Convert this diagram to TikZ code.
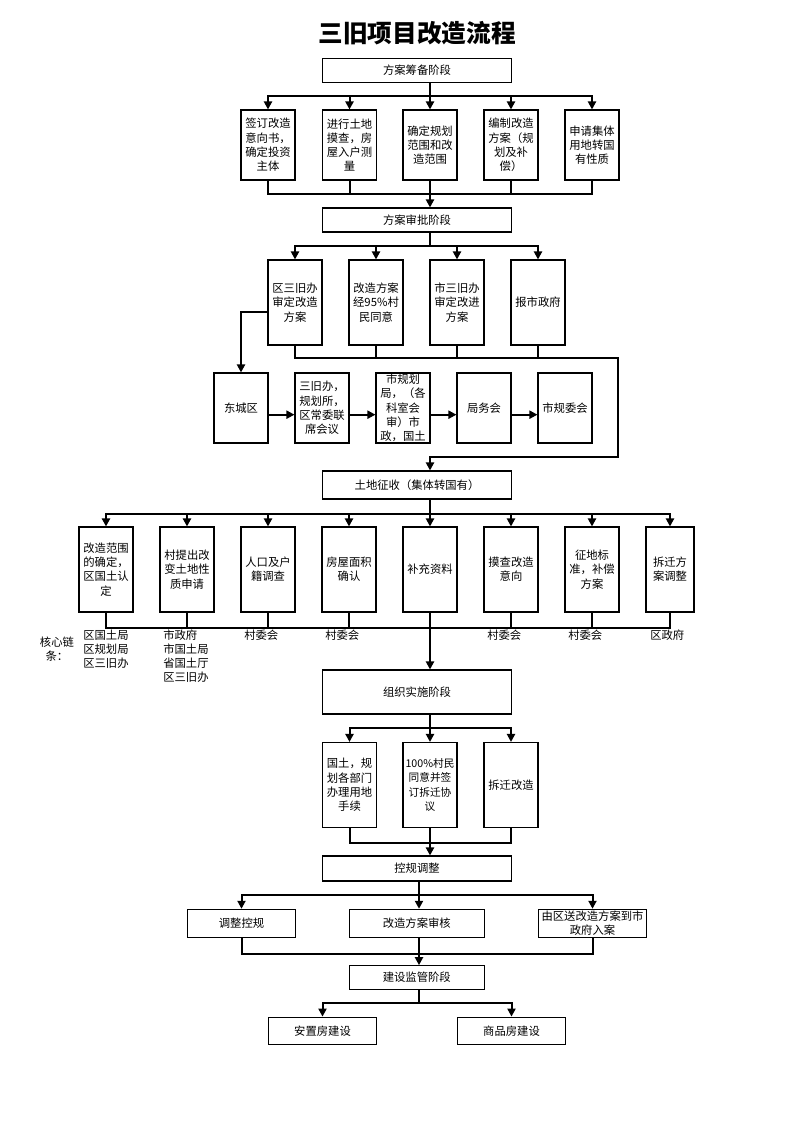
\documentclass[tikz,border=0pt]{standalone}
\usepackage{fontspec}
\setmainfont{Noto Sans CJK SC}
\usetikzlibrary{arrows.meta}

\begin{document}
\begin{tikzpicture}[x=0.75pt,y=-0.75pt,
  stagebox/.style={draw,line width=0.8pt,minimum width=141.75pt,minimum height=18pt,inner sep=0pt,align=center,font=\fontsize{8.5}{10.7}\selectfont},
  tallbox/.style={draw,line width=0.8pt,minimum width=40.5pt,minimum height=52.5pt,inner sep=0pt,align=center,font=\fontsize{8.5}{10.7}\selectfont},
  note/.style={inner sep=0pt,align=left,anchor=north west,font=\fontsize{8.5}{10.5}\selectfont},
  link/.style={line width=1.5pt,line cap=rect},
  linkarrow/.style={line width=1.5pt,-{Triangle[length=6pt,width=6pt]}}]
\useasboundingbox (0,0) rectangle (793,1122);
\node[font=\fontsize{18.5}{20}\selectfont\bfseries] (title) at (417,33) {三旧项目改造流程};

\coordinate (spine) at (430,0);
\coordinate (spineb) at (419,0);

% 方案筹备阶段
\node[stagebox] (s1) at (417,70.5) {方案筹备阶段};
\node[tallbox] (a1) at (268,145) {签订改造\\意向书，\\确定投资\\主体};
\node[tallbox] (a2) at (349.5,145) {进行土地\\摸查，房\\屋入户测\\量};
\node[tallbox] (a3) at (430,145) {确定规划\\范围和改\\造范围};
\node[tallbox] (a4) at (511,145) {编制改造\\方案（规\\划及补\\偿）};
\node[tallbox] (a5) at (592,145) {申请集体\\用地转国\\有性质};
\coordinate (busa) at (0,96);
\coordinate (busb) at (0,194);
\draw[link] (busa -| a1) -- (busa -| a5);
\draw[link] (s1.south -| spine) -- (busa -| spine);
\foreach \n in {a1,a2,a3,a4,a5} \draw[linkarrow] (busa -| \n) -- (\n.north);
\foreach \n in {a1,a2,a4,a5} \draw[link] (\n.south) -- (busb -| \n);
\draw[link] (busb -| a1) -- (busb -| a5);

% 方案审批阶段
\node[stagebox] (s2) at (417,220) {方案审批阶段};
\draw[linkarrow] (a3.south) -- (s2.north -| a3);
\node[tallbox,minimum height=63.75pt] (b1) at (295,302.5) {区三旧办\\审定改造\\方案};
\node[tallbox,minimum height=63.75pt] (b2) at (376,302.5) {改造方案\\经95\%村\\民同意};
\node[tallbox,minimum height=63.75pt] (b3) at (457,302.5) {市三旧办\\审定改进\\方案};
\node[tallbox,minimum height=63.75pt] (b4) at (538,302.5) {报市政府};
\coordinate (busc) at (0,246);
\draw[link] (s2.south -| spine) -- (busc -| spine);
\draw[link] (busc -| b1) -- (busc -| b4);
\foreach \n in {b1,b2,b3,b4} \draw[linkarrow] (busc -| \n) -- (\n.north);

\node[tallbox] (c1) at (241,408) {东城区};
\node[tallbox] (c2) at (322,408) {三旧办，\\规划所，\\区常委联\\席会议};
\node[tallbox] (c3) at (403,408) {市规划\\局，（各\\科室会\\审）市\\政，国土};
\node[tallbox] (c4) at (484,408) {局务会};
\node[tallbox] (c5) at (565,408) {市规委会};
\draw[linkarrow] ([yshift=-6.9pt]b1.west) -| (c1.north);
\foreach \p/\q in {c1/c2,c2/c3,c3/c4,c4/c5}
  \draw[linkarrow] ([yshift=-5pt]\p.east) -- ([yshift=-5pt]\q.west);

% 土地征收
\node[stagebox,minimum height=21pt] (s3) at (417,485) {土地征收（集体转国有）};
\coordinate (loopa) at (618,358);
\coordinate (loopb) at (618,456.7);
\foreach \n in {b2,b3,b4} \draw[link] (\n.south) -- (loopa -| \n);
\draw[linkarrow] (b1.south) |- (loopa) -- (loopb) -| (s3.north -| spine);

\node[tallbox,minimum height=63.75pt] (d1) at (106,569.5) {改造范围\\的确定，\\区国土认\\定};
\node[tallbox,minimum height=63.75pt] (d2) at (187,569.5) {村提出改\\变土地性\\质申请};
\node[tallbox,minimum height=63.75pt] (d3) at (268,569.5) {人口及户\\籍调查};
\node[tallbox,minimum height=63.75pt] (d4) at (349,569.5) {房屋面积\\确认};
\node[tallbox,minimum height=63.75pt] (d5) at (430,569.5) {补充资料};
\node[tallbox,minimum height=63.75pt] (d6) at (511,569.5) {摸查改造\\意向};
\node[tallbox,minimum height=63.75pt] (d7) at (592,569.5) {征地标\\准，补偿\\方案};
\node[tallbox,minimum height=63.75pt,minimum width=36pt] (d8) at (670,569.5) {拆迁方\\案调整};
\coordinate (busd) at (0,514);
\coordinate (buse) at (0,628);
\draw[link] (s3.south -| spine) -- (busd -| spine);
\draw[link] (busd -| d1) -- (busd -| d8);
\foreach \n in {d1,d2,d3,d4,d5,d6,d7,d8} \draw[linkarrow] (busd -| \n) -- (\n.north);
\foreach \n in {d1,d2,d3,d4,d6,d7,d8} \draw[link] (\n.south) -- (buse -| \n);
\draw[link] (buse -| d1) -- (buse -| d8);

\node[inner sep=0pt,align=center,font=\fontsize{8.5}{10.5}\selectfont] (k0) at (57,649) {核心链\\条：};
\node[note] (k1) at (83,630) {区国土局\\区规划局\\区三旧办};
\node[note] (k2) at (163,630) {市政府\\市国土局\\省国土厅\\区三旧办};
\node[note] (k3) at (244,630) {村委会};
\node[note] (k4) at (325,630) {村委会};
\node[note] (k6) at (487,630) {村委会};
\node[note] (k7) at (568,630) {村委会};
\node[note] (k8) at (650,630) {区政府};

% 组织实施阶段
\node[stagebox,minimum height=33pt] (s4) at (417,692) {组织实施阶段};
\draw[linkarrow] (d5.south) -- (s4.north -| d5);
\node[tallbox,minimum height=63.75pt] (e1) at (349.5,785) {国土，规\\划各部门\\办理用地\\手续};
\node[tallbox,minimum height=63.75pt,font=\fontsize{8}{10.7}\selectfont] (e2) at (430,785) {100\%村民\\同意并签\\订拆迁协\\议};
\node[tallbox,minimum height=63.75pt] (e3) at (511,785) {拆迁改造};
\coordinate (busf) at (0,728.3);
\coordinate (busg) at (0,842.7);
\draw[linkarrow] (s4.south -| spine) -- (e2.north);
\draw[link] (busf -| e1) -- (busf -| e3);
\foreach \n in {e1,e3} \draw[linkarrow] (busf -| \n) -- (\n.north);
\foreach \n in {e1,e3} \draw[link] (\n.south) -- (busg -| \n);
\draw[link] (busg -| e1) -- (busg -| e3);

% 控规调整
\node[stagebox,minimum height=18.75pt] (s5) at (417,868.5) {控规调整};
\draw[linkarrow] (e2.south) -- (s5.north -| e2);
\node[stagebox,minimum width=81.3pt,minimum height=21pt] (f1) at (241.5,923.3) {调整控规};
\node[stagebox,minimum width=101.25pt,minimum height=21pt] (f2) at (416.8,923.3) {改造方案审核};
\node[stagebox,minimum width=81.3pt,minimum height=21pt,font=\fontsize{8.5}{10}\selectfont] (f3) at (592.5,923.3) {由区送改造方案到市\\政府入案};
\coordinate (bush) at (0,895);
\coordinate (busi) at (0,954.3);
\draw[linkarrow] (s5.south -| spineb) -- (f2.north -| spineb);
\draw[link] (bush -| f1) -- (bush -| f3);
\foreach \n in {f1,f3} \draw[linkarrow] (bush -| \n) -- (\n.north);
\foreach \n in {f1,f3} \draw[link] (\n.south) -- (busi -| \n);
\draw[link] (busi -| f1) -- (busi -| f3);

% 建设监管阶段
\node[stagebox,minimum width=101.25pt,minimum height=17.7pt] (g) at (416.8,977.5) {建设监管阶段};
\draw[linkarrow] (f2.south -| spineb) -- (g.north -| spineb);
\node[stagebox,minimum width=81.3pt,minimum height=20.8pt] (h1) at (322.5,1031) {安置房建设};
\node[stagebox,minimum width=81.3pt,minimum height=20.8pt] (h2) at (511.5,1031) {商品房建设};
\coordinate (busj) at (0,1002.7);
\draw[link] (g.south -| spineb) -- (busj -| spineb);
\draw[link] (busj -| h1) -- (busj -| h2);
\foreach \n in {h1,h2} \draw[linkarrow] (busj -| \n) -- (\n.north);
\end{tikzpicture}
\end{document}
